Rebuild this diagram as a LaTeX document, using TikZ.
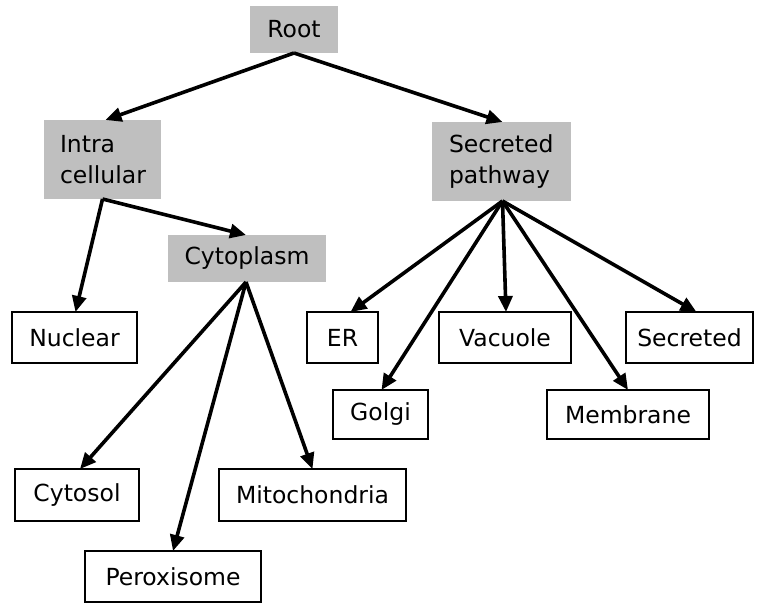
\documentclass[tikz,border=0pt]{standalone}
\usepackage{fontspec}
\setmainfont{DejaVu Sans}
\usetikzlibrary{arrows.meta}
\begin{document}
\begin{tikzpicture}[x=1pt,y=-1pt,
  every node/.style={font=\fontsize{23.5}{31}\selectfont, inner sep=0pt, outer sep=0pt},
  graybox/.style={rectangle, fill=black!25, draw=none},
  whitebox/.style={rectangle, draw=black, line width=1.5pt, fill=white},
  conn/.style={line width=3.6pt, -{Triangle[length=16pt,width=14pt]}, shorten >=0pt}]
\useasboundingbox (0,0) rectangle (760,604);
% gray nodes
\node[graybox, minimum width=88pt, minimum height=47pt] (root) at (294,29.5) {Root};
\node[graybox, minimum width=117pt, minimum height=79pt, align=left, text width=85pt] (intra) at (102.5,159.5) {Intra\\cellular};
\node[graybox, minimum width=158pt, minimum height=47pt] (cyto) at (247,258.5) {Cytoplasm};
\node[graybox, minimum width=139pt, minimum height=79pt, align=left, text width=105pt] (secp) at (501.5,161.5) {Secreted\\pathway};
% white nodes
\node[whitebox, minimum width=125pt, minimum height=51pt] (nuclear) at (74.5,337.5) {Nuclear};
\node[whitebox, minimum width=71pt, minimum height=51pt] (er) at (342.5,337.5) {ER};
\node[whitebox, minimum width=132pt, minimum height=51pt] (vacuole) at (505,337.5) {Vacuole};
\node[whitebox, minimum width=127pt, minimum height=51pt] (secreted) at (689.5,337.5) {Secreted};
\node[whitebox, minimum width=95pt, minimum height=49pt] (golgi) at (380.5,414.5) {Golgi};
\node[whitebox, minimum width=162pt, minimum height=49pt] (membrane) at (628,414.5) {Membrane};
\node[whitebox, minimum width=124pt, minimum height=52pt] (cytosol) at (77,495) {Cytosol};
\node[whitebox, minimum width=187pt, minimum height=52pt] (mito) at (312.5,495) {Mitochondria};
\node[whitebox, minimum width=176pt, minimum height=51pt] (perox) at (173,576.5) {Peroxisome};
% connectors
\draw[conn] (root.south) -- ([xshift=3pt]intra.north);
\draw[conn] (root.south) -- ([xshift=1pt]secp.north);
\draw[conn] (intra.south) -- ([xshift=1pt]nuclear.north);
\draw[conn] (intra.south) -- ([xshift=-1pt]cyto.north);
\draw[conn] ([xshift=-1pt]cyto.south) -- ([xshift=3pt]cytosol.north);
\draw[conn] ([xshift=-1pt]cyto.south) -- (perox.north);
\draw[conn] ([xshift=-1pt]cyto.south) -- (mito.north);
\draw[conn] ([xshift=1pt]secp.south) -- ([xshift=8pt]er.north);
\draw[conn] ([xshift=1pt]secp.south) -- ([xshift=1pt]golgi.north);
\draw[conn] ([xshift=1pt]secp.south) -- ([xshift=1pt]vacuole.north);
\draw[conn] ([xshift=1pt]secp.south) -- (membrane.north);
\draw[conn] ([xshift=1pt]secp.south) -- ([xshift=7pt]secreted.north);
\end{tikzpicture}
\end{document}
